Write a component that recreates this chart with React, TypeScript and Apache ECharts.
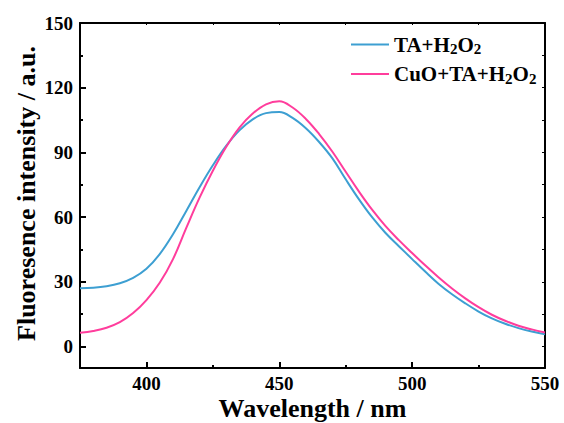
import React, { useEffect, useRef } from "react";
import * as echarts from "echarts";

const wavelengths = [375, 380, 385, 390, 395, 400, 405, 410, 415, 420, 425, 430, 435, 440, 445, 450, 455, 460, 465, 470, 475, 480, 485, 490, 495, 500, 505, 510, 515, 520, 525, 530, 535, 540, 545, 550];
const taH2O2 = [27.0, 27.2, 27.9, 29.3, 31.8, 36.0, 42.8, 52.0, 62.8, 73.8, 84.0, 93.0, 100.2, 105.3, 108.2, 108.7, 106.0, 101.2, 94.8, 87.2, 77.5, 68.2, 59.8, 52.6, 46.5, 40.5, 34.6, 29.0, 24.2, 20.0, 16.2, 13.0, 10.5, 8.5, 6.9, 5.6];
const cuoTaH2O2 = [6.3, 7.2, 8.7, 11.3, 15.5, 21.5, 29.5, 40.5, 55.0, 69.0, 81.5, 92.5, 101.5, 108.0, 112.3, 113.7, 110.8, 105.5, 98.5, 90.3, 81.0, 71.8, 63.3, 55.8, 49.3, 43.3, 37.5, 32.0, 26.9, 22.3, 18.2, 14.7, 11.9, 9.6, 7.9, 6.5];
const seriesNames = ["TA+H{s|2}O{s|2}", "CuO+TA+H{s|2}O{s|2}"];
const xMajorTicks = [400, 450, 500, 550];
const xMinorTicks = [425, 475, 525];
const yMajorTicks = [0, 30, 60, 90, 120, 150];
const yMinorTicks = [15, 45, 75, 105, 135];

const FONT = "Liberation Serif";
const BLUE = "#3D9FD2";
const PINK = "#FF3D9C";

export default function App() {
  const ref = useRef<HTMLDivElement>(null);
  useEffect(() => {
    if (!ref.current) return;
    const chart = echarts.init(ref.current, null, { renderer: "svg" });
    const lineColor = "#000";
    const baseX = { type: "value", min: 375, max: 550, splitLine: { show: false } };
    const baseY = { type: "value", min: -10, max: 150, splitLine: { show: false } };
    const labelStyle = { color: "#000", fontFamily: FONT, fontWeight: "bold", fontSize: 19 };
    chart.setOption({
      animation: false,
      backgroundColor: "#fff",
      textStyle: { fontFamily: FONT },
      grid: { left: 80, right: 19, top: 23, bottom: 55, containLabel: false, outerBoundsMode: "none" },
      legend: {
        orient: "vertical",
        left: 346,
        top: 29,
        itemWidth: 38,
        itemHeight: 14,
        itemGap: 7,
        icon: "path://M0,6 L38,6 L38,8 L0,8 Z",
        textStyle: {
          color: "#000",
          fontFamily: FONT,
          fontWeight: "bold",
          fontSize: 21,
          rich: {
            s: { fontFamily: FONT, fontWeight: "bold", fontSize: 15, padding: [9, 0, 0, 0] },
          },
        },
        data: seriesNames.map((n, i) => ({ name: n, itemStyle: { color: i === 0 ? BLUE : PINK } })),
      },
      xAxis: [
        {
          ...baseX,
          position: "bottom",
          axisLine: { show: true, onZero: false, lineStyle: { color: lineColor, width: 2 } },
          axisTick: { show: true, inside: true, length: 6, customValues: xMajorTicks, lineStyle: { color: lineColor, width: 2 } },
          axisLabel: { ...labelStyle, margin: 7, lineHeight: 17, customValues: xMajorTicks },
          name: "Wavelength / nm",
          nameLocation: "middle",
          nameGap: 30,
          nameMoveOverlap: false,
          nameTextStyle: { color: "#000", fontFamily: FONT, fontWeight: "bold", fontSize: 26, lineHeight: 20 },
        },
        {
          ...baseX,
          position: "bottom",
          axisLine: { show: false, onZero: false },
          axisTick: { show: true, inside: true, length: 3, customValues: xMinorTicks, lineStyle: { color: lineColor, width: 2 } },
          axisLabel: { show: false },
        },
        {
          ...baseX,
          position: "top",
          axisLine: { show: true, onZero: false, lineStyle: { color: lineColor, width: 2 } },
          axisTick: { show: true, inside: true, length: 2, customValues: [400, 425, 450, 475, 500, 525], lineStyle: { color: lineColor, width: 1 } },
          axisLabel: { show: false },
        },
      ],
      yAxis: [
        {
          ...baseY,
          position: "left",
          axisLine: { show: true, onZero: false, lineStyle: { color: lineColor, width: 2 } },
          axisTick: { show: true, inside: true, length: 6, customValues: yMajorTicks, lineStyle: { color: lineColor, width: 2 } },
          axisLabel: { ...labelStyle, margin: 7, customValues: yMajorTicks },
          name: "Fluoresence intensity / a.u.",
          nameLocation: "middle",
          nameGap: 41,
          nameMoveOverlap: false,
          nameRotate: 90,
          nameTextStyle: { color: "#000", fontFamily: FONT, fontWeight: "bold", fontSize: 26, padding: [0, 0, 0, 4] },
        },
        {
          ...baseY,
          position: "left",
          axisLine: { show: false, onZero: false },
          axisTick: { show: true, inside: true, length: 3, customValues: yMinorTicks, lineStyle: { color: lineColor, width: 2 } },
          axisLabel: { show: false },
        },
        {
          ...baseY,
          position: "right",
          axisLine: { show: true, onZero: false, lineStyle: { color: lineColor, width: 2 } },
          axisTick: { show: true, inside: true, length: 3, customValues: [...yMajorTicks, ...yMinorTicks], lineStyle: { color: lineColor, width: 1 } },
          axisLabel: { show: false },
        },
      ],
      series: [
        {
          name: seriesNames[0],
          type: "line",
          smooth: 0.4,
          symbol: "none",
          xAxisIndex: 0,
          yAxisIndex: 0,
          lineStyle: { color: BLUE, width: 2 },
          itemStyle: { color: BLUE },
          data: wavelengths.map((w, i) => [w, taH2O2[i]]),
        },
        {
          name: seriesNames[1],
          type: "line",
          smooth: 0.4,
          symbol: "none",
          xAxisIndex: 0,
          yAxisIndex: 0,
          lineStyle: { color: PINK, width: 2 },
          itemStyle: { color: PINK },
          data: wavelengths.map((w, i) => [w, cuoTaH2O2[i]]),
        },
      ],
    });
    return () => chart.dispose();
  }, []);
  return <div ref={ref} style={{ width: 564, height: 423, position: "absolute", left: 0, top: 0 }} />;
}
